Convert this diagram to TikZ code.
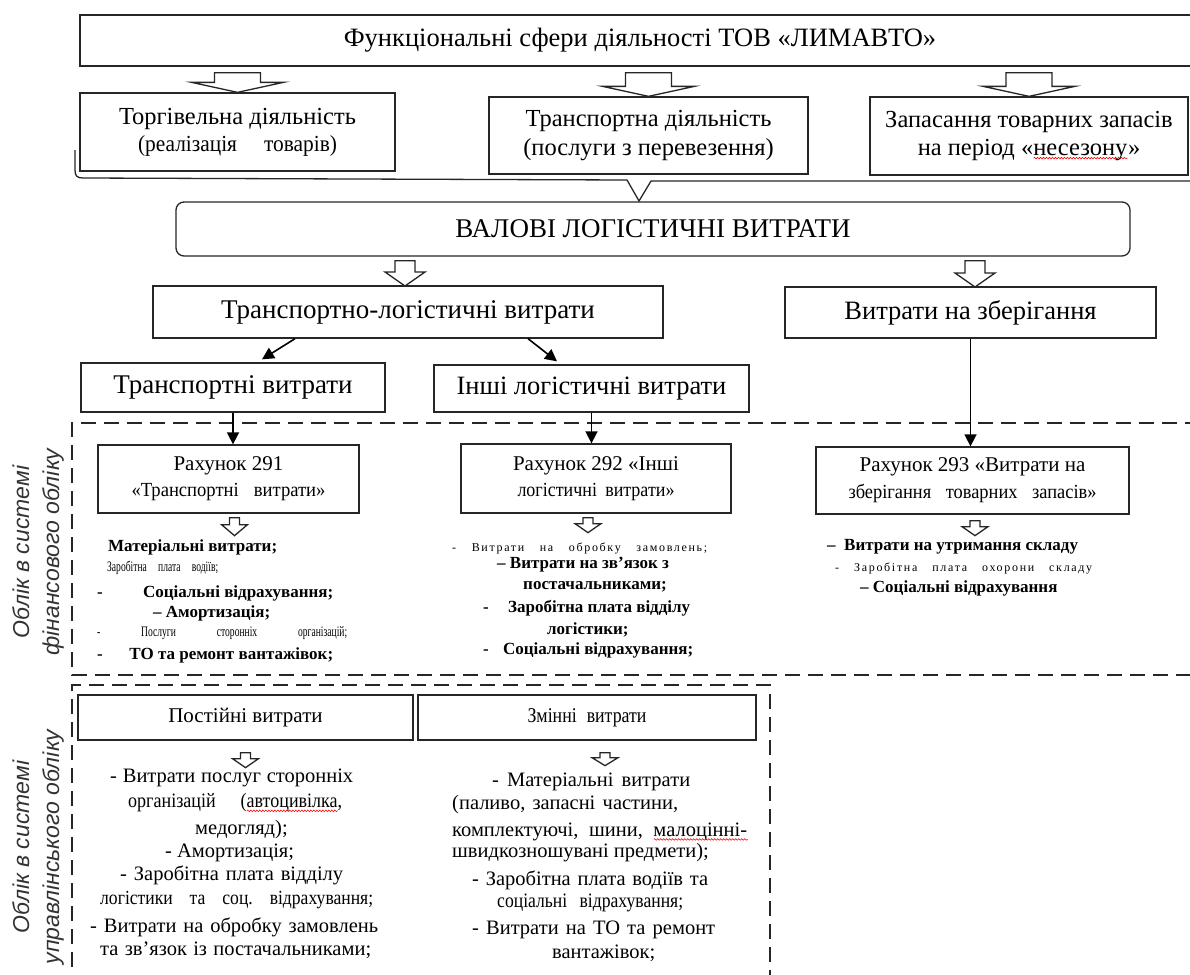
\documentclass[tikz,border=0pt]{standalone}
\usepackage{fontspec}
\setmainfont{Liberation Serif}
\newfontfamily\vsans{Liberation Sans}
\usetikzlibrary{calc,arrows.meta,decorations.pathmorphing}
\newcommand\fs[1]{\fontsize{#1}{#1}\selectfont}
\newcommand\cond[1]{\addfontfeature{FakeStretch=#1}}
\newcommand\jl[2]{\hbox to #1pt{\frenchspacing\spaceskip=.2em plus 1fil minus .1em\relax #2}}
\newcommand\hbx[2]{\hbox to #1pt{#2}}
\newsavebox\wbox
\newdimen\wlen
\newcommand\redwave[1]{\sbox\wbox{#1}\wlen=\wd\wbox\rlap{\smash{\raisebox{-4pt}{\tikz[x=1pt,y=1pt]\draw[red,line width=.6pt,decorate,decoration={snake,amplitude=.8pt,segment length=3pt}] (0pt,0pt) -- (\the\wlen,0pt);}}}#1}
\newcommand\hollowarrow[5]{%
  \path[harr] let \p1=#1, \p2=#2 in
    (\x1-#3pt,\y1) -- (\x1+#3pt,\y1) -- (\x1+#3pt,\y2+#5pt) -- (\x1+#4pt,\y2+#5pt)
    -- (\x1,\y2) -- (\x1-#4pt,\y2+#5pt) -- (\x1-#3pt,\y2+#5pt) -- cycle;}
\begin{document}
\begin{tikzpicture}[x=1pt,y=-1pt,
  box/.style={draw=black!85,line width=1.3pt,inner sep=0pt,align=center},
  harr/.style={draw=black!85,line width=1.3pt,fill=white,line join=miter},
  conn/.style={draw=black,line width=1.6pt,-{Triangle[length=12pt,width=12pt]}},
  dbox/.style={draw=black!85,line width=2.2pt,dash pattern=on 15pt off 8pt},
  lb/.style={anchor=west,inner sep=0pt,font=\fs{17}\bfseries},
  ln/.style={anchor=west,inner sep=0pt,font=\fs{20.5}},
  ls/.style={anchor=west,inner sep=0pt,font=\fs{14.5}\cond{0.66}},
  lsp/.style={anchor=west,inner sep=0pt,font=\fs{12}\addfontfeature{LetterSpace=14}},
  vt/.style={rotate=90,align=center,inner sep=0pt,font=\fs{23}\vsans\itshape,text=black!80}]
\useasboundingbox (0,0) rectangle (1190,974);
\clip (0,0) rectangle (1190,974);

% top level
\node[box,minimum width=1120,minimum height=51,font=\fs{26.5}] (title) at (640,40.5)
  {Функціональні сфери діяльності ТОВ «ЛИМАВТО»};
\node[box,minimum width=315,minimum height=78] (torg) at (237.5,132)
  {\fs{24.5}Торгівельна діяльність\\[5pt]\fs{23}\cond{0.93}\jl{199}{(реалізація товарів)}\hspace{32pt}};
\node[box,minimum width=319,minimum height=77] (transp) at (648.5,135.5)
  {\fs{24.5}Транспортна діяльність\\[5pt]\fs{24.5}(послуги з перевезення)};
\node[box,minimum width=318,minimum height=78] (zapas) at (1029,136)
  {\fs{24.5}Запасання товарних запасів\\[5pt]\fs{24.5}на період «\redwave{несезону}»};

\hollowarrow{($(title.south -| torg.north)+(0,6)$)}{(torg.north)}{23}{46}{10}
\hollowarrow{($(title.south -| transp.north)+(0,6)$)}{(transp.north)}{23}{46}{10}
\hollowarrow{($(title.south -| zapas.north)+(0,6)$)}{(zapas.north)}{23}{46}{10}

% bracket
\draw[black!85,line width=1.3pt] (75,150) -- (75,170) .. controls (75,176) and (77,178) .. (83,178)
  -- (627,180) -- (639,201) -- (651,181) -- (1200,181);

\node[box,rounded corners=8pt,minimum width=954,minimum height=54,font=\fs{27}] (valovi) at (653,229)
  {ВАЛОВІ ЛОГІСТИЧНІ ВИТРАТИ};

\node[box,minimum width=510,minimum height=52,font=\fs{27}] (tl) at (408,312)
  {Транспортно-логістичні витрати};
\node[box,minimum width=371,minimum height=51,font=\fs{26.5}] (zb) at (970.5,312.5)
  {Витрати на зберігання};
\hollowarrow{($(valovi.south -| 405,0)+(0,4)$)}{(405,286)}{10}{20}{14}
\hollowarrow{($(valovi.south -| 975,0)+(0,4)$)}{(975,287)}{10}{20}{14}

\node[box,minimum width=304,minimum height=49,font=\fs{27}] (tv) at (233,387.5)
  {Транспортні витрати};
\node[box,minimum width=315,minimum height=47,font=\fs{26.5}] (il) at (591.5,388.5)
  {Інші логістичні витрати};
\draw[conn] ($(tl.south)+(-113,0)$) -- ($(tv.north)+(29,-3)$);
\draw[conn] ($(tl.south)+(120,0)$) -- ($(il.north)+(-34.5,-3)$);

% financial accounting frame
\draw[dbox] (1200,423) -- (72,423) -- (72,675) -- (1200,675);
\node[vt] (vfin) at (38,552) {Облік в системі\\[7pt]фінансового обліку};

\node[box,minimum width=261,minimum height=68] (r291) at (228.5,479)
  {\fs{21}Рахунок 291\\[7pt]\fs{20}\cond{0.93}\jl{194}{«Транспортні витрати»}};
\node[box,minimum width=270,minimum height=69] (r292) at (596,478.5)
  {\fs{21}Рахунок 292 «Інші\\[7pt]\fs{20}\cond{0.9}\jl{157}{логістичні витрати»}\hspace{30pt}};
\node[box,minimum width=313,minimum height=67] (r293) at (972.5,480.5)
  {\fs{21}Рахунок 293 «Витрати на\\[7pt]\fs{20}\cond{0.92}\jl{248}{зберігання товарних запасів»}};
\draw[conn] (tv.south) -- (tv.south |- r291.north);
\draw[conn] (il.south) -- (il.south |- r292.north);
\draw[conn] (zb.south) -- (zb.south |- r293.north);

\hollowarrow{($(r291.south)+(6,4)$)}{($(r291.south)+(6,22)$)}{5}{13}{11}
\hollowarrow{($(r292.south)+(-8,4)$)}{($(r292.south)+(-8,19)$)}{5}{13}{9}
\hollowarrow{($(r293.south)+(2.5,6)$)}{($(r293.south)+(2.5,21)$)}{5}{13}{9}

% list 291
\node[lb] (a1) at (108,547) {Матеріальні витрати;};
\node[ls] (a2) at (107,568) {\jl{111}{Заробітна плата водіїв;}};
\node[lb] (a3) at (97,593) {\hbx{236}{-\hfill Соціальні відрахування;}};
\node[lb] (a4) at (153,613) {– Амортизація;};
\node[ls] (a5) at (97,633) {\jl{250}{- Послуги сторонніх організацій;}};
\node[lb] (a6) at (97,655) {\hbx{236}{-\hfill ТО та ремонт вантажівок;}};

% list 292
\node[lsp] (b1) at (452,548) {\jl{255}{- Витрати на обробку замовлень;}};
\node[lb] (b2) at (497,565) {– Витрати на зв’язок з};
\node[lb] (b3) at (523,587) {постачальниками;};
\node[lb] (b4) at (483,608) {\hbx{207}{-\hfill Заробітна плата відділу}};
\node[lb] (b5) at (547,630) {логістики;};
\node[lb] (b6) at (483,650) {\hbx{210}{-\hfill Соціальні відрахування;}};

% list 293
\node[lb] (c1) at (827,547) {–\ \ Витрати на утримання складу};
\node[lsp] (c2) at (835,568) {\jl{257}{- Заробітна плата охорони складу}};
\node[lb] (c3) at (860,588) {– Соціальні відрахування};

% management accounting frame
\draw[dbox] (72,990) -- (72,685) -- (770,685) -- (770,990);
\node[vt] (vman) at (38,847) {Облік в системі\\[7pt]управлінського обліку};

\node[box,minimum width=335,minimum height=45,font=\fs{21}] (post) at (245.5,717.5) {Постійні витрати};
\node[box,minimum width=338,minimum height=45,font=\fs{21}\cond{0.85}] (zm) at (587,717.5) {\jl{119}{Змінні витрати}};
\hollowarrow{($(post.south)+(0,12)$)}{($(post.south)+(0,27)$)}{5}{13}{9}
\hollowarrow{($(zm.south)+(18,12)$)}{($(zm.south)+(18,25)$)}{5}{13}{8}

% list post
\node[ln] (d1) at (110,778) {\jl{243}{- Витрати послуг сторонніх}};
\node[ln,font=\fs{20.5}\cond{0.88}] (d2) at (128,803) {\jl{214}{організацій (\redwave{автоцивілка},}};
\node[ln] (d3) at (195,830) {медогляд);};
\node[ln] (d4) at (165,853) {- Амортизація;};
\node[ln] (d5) at (120,875) {\jl{223}{- Заробітна плата відділу}};
\node[ln,font=\fs{20}\cond{0.88}] (d6) at (100,900) {\jl{273}{логістики та соц. відрахування;}};
\node[ln] (d7) at (90,927) {\jl{288}{- Витрати на обробку замовлень}};
\node[ln] (d8) at (100,950) {\jl{271}{та зв’язок із постачальниками;}};

% list zm
\node[ln] (e1) at (492,782) {\jl{198}{- Матеріальні витрати}};
\node[ln] (e2) at (452,805) {\jl{226}{(паливо, запасні частини,}};
\node[ln] (e3) at (452,832) {\jl{295}{комплектуючі, шини, \redwave{малоцінні-}}};
\node[ln] (e4) at (452,853) {швидкозношувані предмети);};
\node[ln] (e5) at (472,880) {\jl{236}{- Заробітна плата водіїв та}};
\node[ln,font=\fs{20.5}\cond{0.86}] (e6) at (497,903) {\jl{186}{соціальні відрахування;}};
\node[ln] (e7) at (472,930) {\jl{243}{- Витрати на ТО та ремонт}};
\node[ln] (e8) at (552,953) {вантажівок;};
\end{tikzpicture}
\end{document}
